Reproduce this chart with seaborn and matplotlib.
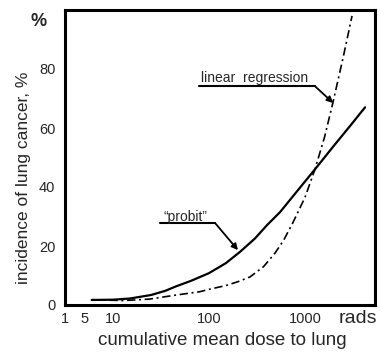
import matplotlib
matplotlib.use("Agg")
import matplotlib.pyplot as plt
import seaborn as sns
import pandas as pd

# ─────────────────────────────────────────────
# 데이터
# ─────────────────────────────────────────────
probit_dose = [6, 10, 15, 25, 35, 46, 65, 100, 150, 210, 300, 400, 550,
               800, 1270, 2000, 3000, 4220]
probit_pct = [1.7, 1.8, 2.2, 3.4, 4.8, 6.4, 8.2, 10.8, 14.2, 18.0, 22.5,
              27.0, 31.5, 38.0, 46.0, 54.0, 61.0, 67.0]

linreg_dose = [6, 12.7, 24, 46, 80, 100, 150, 200, 267, 370, 487, 600, 750,
               1000, 1270, 1600, 1950, 2500, 3090]
linreg_pct = [1.8, 1.5, 2.0, 3.4, 4.5, 5.3, 6.6, 7.9, 9.5, 13.0, 17.6, 22.0,
              28.0, 36.5, 46.0, 57.0, 68.5, 84.0, 98.0]

x_ticks = [3.16, 5, 10, 100, 1000]
x_tick_labels = ["1", "5", "10", "100", "1000"]
x_minor = [50, 500]
y_major = [0, 20, 40, 60, 80]
y_minor = [10, 30, 50, 70, 90]

df = pd.concat([
    pd.DataFrame({"dose": probit_dose, "pct": probit_pct, "model": "probit"}),
    pd.DataFrame({"dose": linreg_dose, "pct": linreg_pct, "model": "linear regression"}),
])

sns.set_style("white")
plt.rcParams["font.family"] = ["Liberation Sans", "DejaVu Sans"]

fig = plt.figure(figsize=(3.8, 3.53), dpi=100)
ax = fig.add_axes([65 / 380, 48 / 353, 310 / 380, 295 / 353])

sns.lineplot(data=df, x="dose", y="pct", style="model", color="black",
             dashes={"probit": "", "linear regression": (5, 2.2, 1.2, 2.2)},
             legend=False, ax=ax, sort=False, estimator=None)
lines = ax.get_lines()
lines[0].set_linewidth(1.6)
lines[1].set_linewidth(1.2)

ax.set_xscale("log")
ax.set_xlim(3.16, 5360)
ax.set_ylim(0, 100)

ax.set_xticks(x_ticks)
ax.set_xticklabels(x_tick_labels)
ax.set_xticks(x_minor, minor=True)
ax.set_xticklabels([], minor=True)
ax.set_yticks(y_major)
ax.set_yticks(y_minor, minor=True)
ax.tick_params(axis="both", which="both", direction="in", color="black",
               labelsize=10.5, pad=5)
ax.tick_params(axis="y", which="major", length=8, width=2, pad=7)
ax.tick_params(axis="y", which="minor", length=8, width=1.3)
ax.tick_params(axis="x", which="both", length=7, width=1.3)

for s in ax.spines.values():
    s.set_linewidth(2.2)
    s.set_color("black")

ax.set_xlabel("cumulative mean dose to lung", fontsize=13.5)
ax.set_ylabel("incidence of lung cancer, %", fontsize=12.5)
ax.xaxis.set_label_coords(0.506, -0.092)
ax.yaxis.set_label_coords(-0.11, 0.43)

ax.text(-0.06, 0.96, "%", transform=ax.transAxes, fontsize=13,
        fontweight="bold", ha="right", va="center")
ax.text(0.945, -0.045, "rads", transform=ax.transAxes, fontsize=14,
        ha="center", va="center")

# 주석: linear regression
ax.text(0.61, 0.77, "linear  regression", transform=ax.transAxes,
        fontsize=10, ha="center", va="center")
ax.plot([0.432, 0.806], [0.742, 0.742], transform=ax.transAxes,
        color="black", lw=1.5)
ax.annotate("", xy=(0.865, 0.685), xytext=(0.806, 0.742),
            xycoords="axes fraction", textcoords="axes fraction",
            arrowprops=dict(arrowstyle="-|>", color="black", lw=1.3,
                            mutation_scale=9, shrinkA=0, shrinkB=0))

# 주석: probit
ax.text(0.39, 0.30, "\u201cprobit\u201d", transform=ax.transAxes,
        fontsize=10, ha="center", va="center")
ax.plot([0.306, 0.484], [0.278, 0.278], transform=ax.transAxes,
        color="black", lw=1.5)
ax.annotate("", xy=(0.558, 0.186), xytext=(0.484, 0.278),
            xycoords="axes fraction", textcoords="axes fraction",
            arrowprops=dict(arrowstyle="-|>", color="black", lw=1.3,
                            mutation_scale=9, shrinkA=0, shrinkB=0))

fig.savefig("out.png", dpi=100)
